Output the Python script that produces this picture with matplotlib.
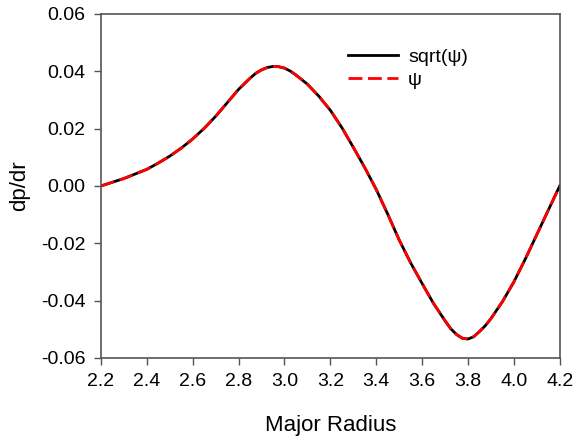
import matplotlib
matplotlib.use('Agg')
import matplotlib.pyplot as plt

plt.rcParams['font.family'] = ['Liberation Sans', 'DejaVu Sans']

# major radius and dp/dr (both curves lie on top of each other)
radius = [2.20, 2.25, 2.30, 2.35, 2.40, 2.45, 2.50, 2.55, 2.60, 2.65,
          2.70, 2.75, 2.80, 2.85, 2.875, 2.90, 2.925, 2.95, 2.975, 3.00,
          3.025, 3.05, 3.10, 3.15, 3.20, 3.25, 3.30, 3.35, 3.40, 3.45,
          3.50, 3.55, 3.60, 3.65, 3.70, 3.725, 3.75, 3.775, 3.80, 3.825,
          3.85, 3.875, 3.90, 3.95, 4.00, 4.05, 4.10, 4.15, 4.20]
dpdr_sqrt = [0.0, 0.0013, 0.0026, 0.0042, 0.0058, 0.0080, 0.0104, 0.0132, 0.0164, 0.0201,
             0.0243, 0.0290, 0.0337, 0.0376, 0.0393, 0.0405, 0.0413, 0.0417, 0.0416, 0.0411,
             0.0401, 0.0387, 0.0355, 0.0313, 0.0264, 0.0204, 0.0135, 0.0064, -0.0012, -0.0098,
             -0.0188, -0.0268, -0.0340, -0.0410, -0.0470, -0.0498, -0.0518, -0.0531, -0.0534, -0.0526,
             -0.0508, -0.0488, -0.0463, -0.0404, -0.0335, -0.0255, -0.0170, -0.0085, 0.0]
dpdr_psi = list(dpdr_sqrt)

xticks = [2.2, 2.4, 2.6, 2.8, 3.0, 3.2, 3.4, 3.6, 3.8, 4.0, 4.2]
yticks = [-0.06, -0.04, -0.02, 0.00, 0.02, 0.04, 0.06]

fig = plt.figure(figsize=(5.77, 4.36), dpi=100)
ax = fig.add_axes([0.175, 0.179, 0.795, 0.789])

ax.plot(radius, dpdr_sqrt, color='black', lw=2, label='sqrt(\u03c8)', solid_joinstyle='round')
ax.plot(radius, dpdr_psi, color='red', lw=2, ls=(0, (5, 2)), label='\u03c8')

ax.set_xlim(2.2, 4.2)
ax.set_ylim(-0.06, 0.06)
ax.set_xticks(xticks)
ax.set_xticklabels(['%.1f' % v for v in xticks])
ax.set_yticks(yticks)
ax.set_yticklabels(['%.2f' % v for v in yticks])
ax.tick_params(direction='out', length=5, width=1, color='#555555', labelsize=14, pad=6)
for s in ax.spines.values():
    s.set_color('#555555')
    s.set_linewidth(1.2)

ax.set_xlabel('Major Radius', fontsize=16, labelpad=18)
ax.set_ylabel('dp/dr', fontsize=16, labelpad=8)

ax.legend(loc='upper left', bbox_to_anchor=(0.5, 0.95), frameon=False, fontsize=14,
          handlelength=2.6, handletextpad=0.5, labelspacing=0.25)

fig.savefig('out.png', dpi=100)
